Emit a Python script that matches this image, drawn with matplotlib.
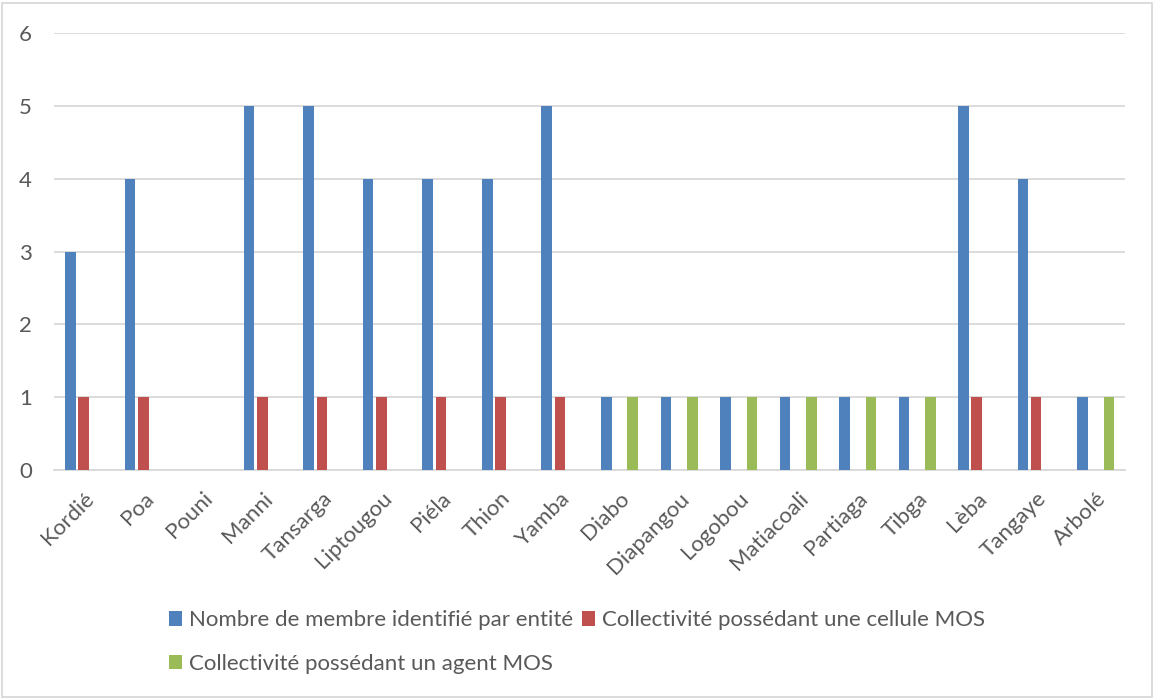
import numpy as np
import matplotlib
matplotlib.use("Agg")
import matplotlib.pyplot as plt
from matplotlib.patches import Rectangle

plt.rcParams['font.family'] = ['Lato', 'DejaVu Sans']

communes = ["Kordié", "Poa", "Pouni", "Manni", "Tansarga", "Liptougou", "Piéla",
            "Thion", "Yamba", "Diabo", "Diapangou", "Logobou", "Matiacoali",
            "Partiaga", "Tibga", "Lèba", "Tangaye", "Arbolé"]
membres = [3, 4, 0, 5, 5, 4, 4, 4, 5, 1, 1, 1, 1, 1, 1, 5, 4, 1]
cellule_mos = [1, 1, 0, 1, 1, 1, 1, 1, 1, 0, 0, 0, 0, 0, 0, 1, 1, 0]
agent_mos = [0, 0, 0, 0, 0, 0, 0, 0, 0, 1, 1, 1, 1, 1, 1, 0, 0, 1]

series_labels = ["Nombre de membre identifié par entité",
                 "Collectivité possédant une cellule MOS",
                 "Collectivité possédant un agent MOS"]
colors = ["#4F81BD", "#C0504D", "#9BBB59"]
text_color = "#595959"
grid_color = "#D9D9D9"

fig = plt.figure(figsize=(11.54, 6.99), dpi=100)
ax = fig.add_axes([0.0468, 0.3272, 0.9285, 0.6260])

x = np.arange(len(communes))
slot = 2 / 3 / 3
bar_w = slot * 0.8
handles = []
for i, (vals, col, lab) in enumerate(zip([membres, cellule_mos, agent_mos], colors, series_labels)):
    h = ax.bar(x + (i - 1) * slot, vals, width=bar_w, color=col, label=lab,
               linewidth=0, zorder=3)
    handles.append(h)

ax.set_xlim(-0.5, len(communes) - 0.5)
ax.set_ylim(0, 6)
ax.set_yticks(range(0, 7))
ax.yaxis.grid(True, color=grid_color, linewidth=1.3, zorder=0)
ax.set_axisbelow(True)
for s in ["top", "right", "left"]:
    ax.spines[s].set_visible(False)
ax.spines["bottom"].set_color(grid_color)
ax.spines["bottom"].set_linewidth(1.3)
ax.tick_params(axis="both", length=0, colors=text_color, labelsize=16)
ax.tick_params(axis="y", pad=16)
ax.set_xticks(x)
ax.set_xticklabels(communes, rotation=45, ha="right", va="top",
                   rotation_mode="anchor", color=text_color)
ax.tick_params(axis="x", pad=13)

fig.legend([handles[0], handles[2], handles[1]],
           [series_labels[0], series_labels[2], series_labels[1]],
           ncol=2, loc="center", bbox_to_anchor=(0.5, 0.0815),
           frameon=False, fontsize=16, labelcolor=text_color,
           handlelength=0.6, handleheight=0.6, handletextpad=0.32,
           columnspacing=0.36, labelspacing=1.05)

fig.patches.append(Rectangle((0.002, 0.003), 0.996, 0.993, transform=fig.transFigure,
                             fill=False, edgecolor=grid_color, linewidth=1.3))

fig.savefig("out.png", dpi=100, facecolor="white")
